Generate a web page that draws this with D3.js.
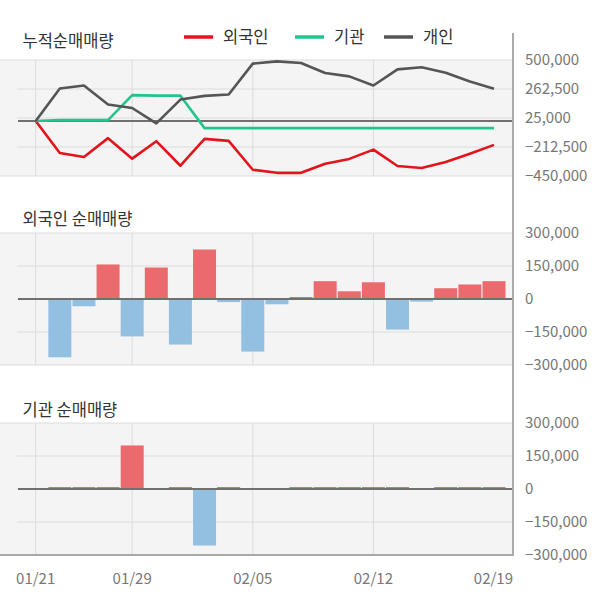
<!DOCTYPE html>
<html><head><meta charset="utf-8">
<script src="https://cdn.jsdelivr.net/npm/d3@7"></script>
<style>
html,body{margin:0;padding:0;background:#fff;}
svg{display:block;font-family:"Noto Sans CJK KR","Noto Sans",sans-serif;}
</style></head>
<body><svg id="c" width="600" height="604"></svg>
<script>
const dates = ["01/21","01/22","01/23","01/28","01/29","01/30","01/31","02/03","02/04","02/05","02/06","02/07","02/10","02/11","02/12","02/13","02/14","02/17","02/18","02/19"];
const xTickLabels = ["01/21","01/29","02/05","02/12","02/19"];
const foreignCum = [0,-261000,-294000,-140000,-308000,-165000,-366000,-146000,-162000,-399000,-424000,-424000,-349000,-310000,-234000,-368000,-385000,-335000,-267000,-195000];
const instCum = [0,8000,8000,8000,212000,208000,208000,-58000,-58000,-58000,-58000,-58000,-58000,-58000,-58000,-58000,-58000,-58000,-58000,-58000];
const indivCum = [0,267000,291000,135000,107000,-19000,176000,206000,217000,470000,489000,476000,393000,366000,291000,423000,440000,396000,324000,264000];
const foreignDaily = [0,-265000,-33000,157000,-170000,143000,-207000,225000,-14000,-239000,-24000,7000,81000,35000,76000,-139000,-12000,49000,66000,81000];
const instDaily = [0,3000,3000,3000,198000,0,3000,-257000,3000,0,0,3000,3000,3000,3000,3000,0,3000,3000,3000];
const cumTicks = [500000,262500,25000,-212500,-450000];
const barTicks = [300000,150000,0,-150000,-300000];
const seriesNames = ["외국인","기관","개인"];
const seriesColors = ["#e3141c","#22c48c","#555555"];
const titles = ["누적순매매량","외국인 순매매량","기관 순매매량"];

const svg = d3.select("#c");
const fmt = d3.format(",");
const plotRight = 513, innerLeft = 17;
const x = d3.scalePoint().domain(dates).range([35.7, 494]);
const barW = 23;

function panel(y, ticks, lastPanel){
  const g = svg.append("g");
  const [y0, y1] = y.range();
  g.append("rect").attr("x",0).attr("y",y1).attr("width",plotRight).attr("height",y0-y1).attr("fill","#f4f4f4");
  // vertical grid
  xTickLabels.slice(0,-1).forEach(d=>{
    g.append("line").attr("x1",x(d)).attr("x2",x(d)).attr("y1",y1).attr("y2",y0).attr("stroke","#dcdcdc").attr("stroke-width",1);
  });
  ticks.forEach((t,i)=>{
    const edge = (i===0 || i===ticks.length-1);
    g.append("line").attr("x1",edge?0:innerLeft).attr("x2",plotRight)
      .attr("y1",y(t)).attr("y2",y(t))
      .attr("stroke", (lastPanel && i===ticks.length-1)?"#aaaaaa":"#dcdcdc")
      .attr("stroke-width",(lastPanel && i===ticks.length-1)?2:1);
    g.append("text").attr("x",525).attr("y",y(t)).attr("dy","0.35em")
      .attr("font-size",15).attr("fill","#777").text(fmt(t));
  });
  return g;
}

// Top panel
const yTop = d3.scaleLinear().domain([-450000,500000]).range([176,60]);
const gTop = panel(yTop, cumTicks, false);
gTop.append("line").attr("x1",18).attr("x2",plotRight).attr("y1",yTop(0)).attr("y2",yTop(0)).attr("stroke","#707070").attr("stroke-width",2);
const line = d3.line().x((d,i)=>x(dates[i])).y(d=>yTop(d));
[foreignCum, instCum, indivCum].forEach((s,k)=>{
  gTop.append("path").attr("d",line(s)).attr("fill","none").attr("stroke",seriesColors[k]).attr("stroke-width",2.6).attr("stroke-linejoin","round");
});

// Bar panels
function barPanel(vals, y, last){
  const g = panel(y, barTicks, last);
  vals.forEach((v,i)=>{
    if(v===0) return;
    const top = v>0 ? y(v) : y(0);
    const h = Math.max(Math.abs(y(v)-y(0)), 2);
    g.append("rect").attr("x",x(dates[i])-barW/2).attr("width",barW)
      .attr("y", v>0 ? y(0)-h : top).attr("height",h)
      .attr("fill", v>0 ? "#eb6a6e" : "#93bfe0");
  });
  g.append("line").attr("x1",18).attr("x2",plotRight).attr("y1",y(0)).attr("y2",y(0)).attr("stroke","#707070").attr("stroke-width",2);
}
const yMid = d3.scaleLinear().domain([-300000,300000]).range([365,233]);
barPanel(foreignDaily, yMid, false);
const yBot = d3.scaleLinear().domain([-300000,300000]).range([555,423]);
barPanel(instDaily, yBot, true);

// right axis line
svg.append("line").attr("x1",plotRight).attr("x2",plotRight).attr("y1",33).attr("y2",556).attr("stroke","#aaaaaa").attr("stroke-width",2);

// titles
[[47,titles[0]],[225,titles[1]],[416,titles[2]]].forEach(([ty,t])=>{
  svg.append("text").attr("x",22.5).attr("y",ty).attr("font-size",16.5).attr("fill","#333").text(t);
});

// legend
const legX = [184,295,384];
seriesNames.forEach((n,k)=>{
  svg.append("line").attr("x1",legX[k]).attr("x2",legX[k]+29).attr("y1",37).attr("y2",37).attr("stroke",seriesColors[k]).attr("stroke-width",3.5);
  svg.append("text").attr("x",legX[k]+39).attr("y",37).attr("dy","0.36em").attr("font-size",16.5).attr("fill","#333").text(n);
});

// x labels
xTickLabels.forEach((d,i)=>{
  const last = i===xTickLabels.length-1;
  svg.append("text").attr("x", last ? plotRight : x(d)).attr("y",579).attr("dy","0.35em")
    .attr("text-anchor", last ? "end" : "middle").attr("font-size",15).attr("fill","#777").text(d);
});
</script></body></html>
